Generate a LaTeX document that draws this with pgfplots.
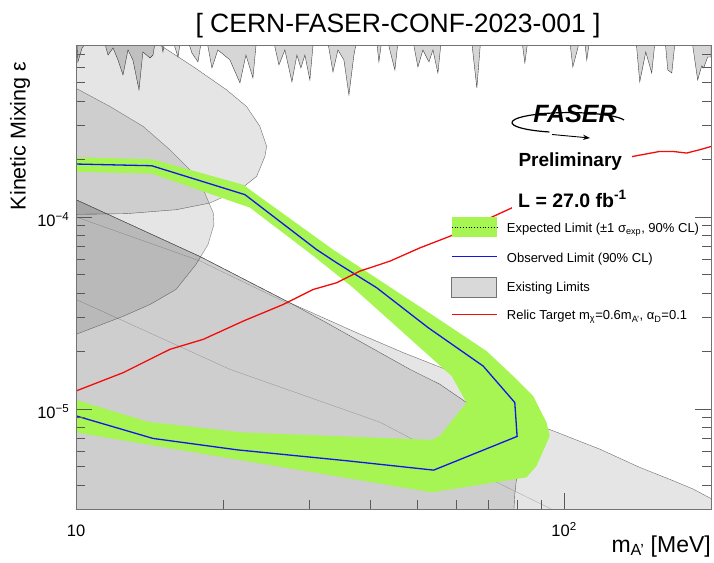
\documentclass[border=0pt]{standalone}
\usepackage{pgfplots}
\pgfplotsset{compat=1.18}
\usepackage{fontspec}
\setmainfont{Liberation Sans}
\usetikzlibrary{arrows.meta}
\definecolor{expgreen}{RGB}{166,245,82}
\definecolor{obsblue}{RGB}{20,20,235}
\definecolor{relicred}{RGB}{245,10,10}
\begin{document}
\begin{tikzpicture}
\path[use as bounding box] (0pt,0pt) rectangle (714pt,562pt);
\begin{axis}[
  at={(76pt,52.7pt)}, anchor=south west,
  scale only axis, width=635pt, height=464.3pt,
  xmode=log, ymode=log,
  xmin=10, xmax=200, ymin=3e-6, ymax=7.86e-4,
  xtick={10,100}, xticklabels={10,10\textsuperscript{2}},
  minor xtick={20,30,40,50,60,70,80,90,200},
  ytick={1e-5,1e-4}, yticklabels={10\textsuperscript{−5},10\textsuperscript{−4}},
  minor ytick={4e-6,5e-6,6e-6,7e-6,8e-6,9e-6,2e-5,3e-5,4e-5,5e-5,6e-5,7e-5,8e-5,9e-5,2e-4,3e-4,4e-4,5e-4,6e-4,7e-4},
  xtick pos=left, ytick pos=both,
  tick align=inside,
  major tick length=16pt, minor tick length=9pt,
  every tick/.style={black!65, line width=0.6pt},
  axis line style={black!55, line width=0.8pt},
  axis on top=true,
  ticklabel style={font=\fontsize{16.5}{18}\selectfont, inner sep=0pt},
  xticklabel style={anchor=base, yshift=-27pt},
  yticklabel style={anchor=base east, xshift=-6.5pt, yshift=-9.4pt},
]
% top spikes
\addplot[fill=black!16, draw=black!75, line width=0.4pt] coordinates {
(10.0,1e-3)(10.09,6.42e-4)(10.29,7.59e-4)(11.20,1e-3)(11.63,6.97e-4)(11.91,7.59e-4)(12.19,6.57e-4)(12.48,5.49e-4)(12.78,7.41e-4)(13.08,6.57e-4)(13.46,4.59e-4)(13.71,7.23e-4)(14.18,6.73e-4)(14.38,6.97e-4)(14.72,1e-3)(15.07,7.23e-4)(15.43,1e-3)(16.18,6.81e-4)(16.56,1e-3)(17.28,7.14e-4)(17.78,6.42e-4)(18.29,1e-3)(18.99,5.97e-4)(19.53,7.41e-4)(20.67,6.57e-4)(21.67,4.99e-4)(22.29,6.97e-4)(23.04,5.30e-4)(23.59,1e-3)(24.97,1e-3)(26.05,6.19e-4)(26.79,7.41e-4)(27.69,5.05e-4)(28.35,6.97e-4)(28.89,5.97e-4)(29.44,6.97e-4)(30.14,5.17e-4)(30.86,1e-3)(32.36,1e-3)(33.61,5.69e-4)(34.41,7.41e-4)(35.39,6.57e-4)(36.24,4.32e-4)(37.10,6.97e-4)(38.16,1e-3)(40.97,1e-3)(41.74,6.42e-4)(42.74,1e-3)(43.95,7.41e-4)(45.01,5.83e-4)(46.08,1e-3)(48.31,1e-3)(50.18,6.04e-4)(51.37,7.41e-4)(52.85,6.42e-4)(53.86,7.41e-4)(55.14,5.62e-4)(56.44,1e-3)(64.11,1e-3)(66.26,4.70e-4)(67.86,1e-3)(81.18,1e-3)(83.10,6.34e-4)(85.09,1e-3)(101.8,1e-3)(104.2,6.04e-4)(106.7,7.59e-4)(109.2,1e-3)(111.3,6.57e-4)(113.9,1e-3)(139.5,1e-3)(142.9,5.05e-4)(147.0,7.23e-4)(151.2,5.62e-4)(154.8,1e-3)(160.0,1e-3)(163.1,5.83e-4)(166.2,5.62e-4)(170.2,1e-3)(180.9,1e-3)(187.8,5.17e-4)(191.4,6.12e-4)(193.2,5.97e-4)(196.9,6.81e-4)(200,6.81e-4)(200,1e-3)(10.0,1e-3)
};
% region B (upper ellipse)
\addplot[fill=black, fill opacity=0.1, draw=black!70, draw opacity=0.8, line width=0.4pt] coordinates {
(9,8.35e-4)(14.38,8.35e-4)(14.86,7.86e-4)(17.39,6.06e-4)(20.35,4.59e-4)(22.36,3.76e-4)(23.81,2.96e-4)(24.58,2.33e-4)(24.38,2.065e-4)(23.45,1.626e-4)(21.67,1.387e-4)(18.81,1.182e-4)(16.08,1.091e-4)(12.70,1.040e-4)(9,1.028e-4)(9,8.35e-4)
};
% region A
\addplot[fill=black, fill opacity=0.1, draw=black!70, draw opacity=0.7, line width=0.4pt] coordinates {
(9,4.68e-4)(10,4.68e-4)(11.74,3.76e-4)(13.73,2.96e-4)(15.57,2.238e-4)(17.12,1.761e-4)(18.23,1.387e-4)(19.11,1.049e-4)(19.17,9.12e-5)(18.64,7.18e-5)(17.61,5.65e-5)(16.03,4.19e-5)(14.18,3.50e-5)(12.50,3.04e-5)(10,2.445e-5)(9,2.445e-5)(9,4.68e-4)
};
% region C2 (light, outer)
\addplot[fill=black, fill opacity=0.1, draw=black!70, draw opacity=0.8, line width=0.4pt] coordinates {
(9,1.23e-4)(10,1.23e-4)(17.95,6.22e-5)(27.43,3.57e-5)(37.57,2.495e-5)(46.82,1.964e-5)(58.35,1.576e-5)(70.44,1.058e-5)(78.63,9.20e-6)(94.95,7.69e-6)(118.4,6.17e-6)(142.9,4.96e-6)(167.2,4.23e-6)(183.7,3.83e-6)(199.7,3.42e-6)(220,3.2e-6)(220,1e-6)(9,1e-6)(9,1.23e-4)
};
% region C (dark line)
\addplot[fill=black, fill opacity=0.1, draw=black!75, draw opacity=0.8, line width=0.4pt] coordinates {
(9,1.23e-4)(10,1.23e-4)(17.95,6.22e-5)(27.43,3.57e-5)(32.61,2.81e-5)(48.31,1.608e-5)(55.65,1.344e-5)(63.11,1.08e-5)(70.44,7.84e-6)(75.59,5.81e-6)(79.90,4.31e-6)(79.26,3.60e-6)(78.3,2e-6)(9,2e-6)(9,1.23e-4)
};
% faint boundaries
\addplot[black, draw opacity=0.25, line width=0.4pt] coordinates {
(10,3.72e-5)(20.67,1.608e-5)(41.94,8.53e-6)(64.11,4.86e-6)(97,2.9e-6)
};
\addplot[black, draw opacity=0.25, line width=0.4pt] coordinates {
(10,1.00e-4)(17.95,5.9e-5)(27.43,3.5e-5)
};
% expected band
\addplot[fill=expgreen, draw=none] coordinates {
(10,2.045e-4)(14.31,1.997e-4)(21.98,1.472e-4)(33.61,6.76e-5)(53.51,3.106e-5)(69.36,2.002e-5)(78.63,1.484e-5)(86.41,1.168e-5)(92.04,8.50e-6)(93.47,7.24e-6)(87.81,5.05e-6)(83.75,4.40e-6)(53.51,3.68e-6)(10,7.54e-6)
(10,1.114e-5)(14.06,8.56e-6)(22.01,7.54e-6)(53.51,6.90e-6)(55.65,7.24e-6)(63.11,1.08e-5)(58.83,1.484e-5)(36.92,4.29e-5)(30.58,6.29e-5)(22.72,1.118e-4)(14.31,1.679e-4)(10,1.720e-4)(10,2.045e-4)
};
% observed
\addplot[obsblue, line width=1.3pt] coordinates {
(10.0,9.20e-6)(14.38,7.02e-6)(21.41,6.12e-6)(35.89,5.37e-6)(54.05,4.80e-6)(80.12,7.19e-6)(79.26,1.08e-5)(68.25,1.673e-5)(52.67,2.649e-5)(41.29,4.28e-5)(34.20,5.77e-5)(31.11,6.76e-5)(22.19,1.306e-4)(14.29,1.848e-4)(10.0,1.886e-4)
};
% relic target
\addplot[relicred, line width=1.3pt] coordinates {
(10,1.240e-5)(12.50,1.546e-5)(15.57,2.043e-5)(18.23,2.304e-5)(22.01,2.867e-5)(26.58,3.50e-5)(30.62,4.19e-5)(34.20,4.54e-5)(38.16,5.22e-5)(43.95,5.88e-5)(50.65,6.90e-5)(58.35,7.93e-5)(78.15,1.114e-4)(98.0,1.420e-4)(118.4,1.761e-4)(138.2,2.065e-4)(157.0,2.193e-4)(167.0,2.193e-4)(178.3,2.151e-4)(189.6,2.238e-4)(200,2.327e-4)
};
\end{axis}
% legend (drawn by hand)
\fill[expgreen] (451.7pt,325pt) rectangle (496.7pt,345pt);
\draw[black, dotted, line width=0.8pt] (451.7pt,335pt) -- (496.7pt,335pt);
\draw[obsblue, line width=1pt] (451.7pt,305pt) -- (496.7pt,305pt);
\filldraw[fill=black!15, draw=black!55, line width=0.6pt] (451.7pt,265pt) rectangle (496.7pt,285pt);
\draw[relicred, line width=1pt] (451.7pt,247pt) -- (496.7pt,247pt);
\begin{scope}[every node/.style={anchor=base west, inner sep=0pt, font=\fontsize{13}{15}\selectfont}]
\node at (506.7pt,329pt) {Expected Limit (±1 σ\textsubscript{exp}, 90\% CL)};
\node at (506.7pt,299.5pt) {Observed Limit (90\% CL)};
\node at (506.7pt,270.5pt) {Existing Limits};
\node at (506.7pt,242pt) {Relic Target m\textsubscript{χ}=0.6m\textsubscript{A'}, α\textsubscript{D}=0.1};
\end{scope}
% white pave behind text
\fill[white] (512pt,347pt) rectangle (632pt,422pt);
\node[anchor=base west, inner sep=0pt, font=\bfseries\fontsize{19}{22}\selectfont] at (518.3pt,395.3pt) {Preliminary};
\node[anchor=base west, inner sep=0pt, font=\bfseries\fontsize{19.5}{22}\selectfont] at (518pt,354.7pt) {L = 27.0 fb\textsuperscript{-1}};
% FASER logo
\node[inner sep=0pt, font=\bfseries\itshape\fontsize{25}{28}\selectfont] at (575pt,448pt) {FASER};
\draw[line width=1.2pt] (624pt,442pt) arc[start angle=15, end angle=250, x radius=57pt, y radius=10pt];
\draw[line width=0.9pt, -{Stealth[length=7pt]}] (552pt,427.5pt) -- (590pt,424pt);
% title and axis labels
\node[anchor=base, inner sep=0pt, font=\fontsize{26.5}{30}\selectfont] at (398pt,529pt) {[ CERN-FASER-CONF-2023-001 ]};
\node[rotate=90, inner sep=0pt, font=\fontsize{21.5}{24}\selectfont] at (20pt,426pt) {Kinetic Mixing ε};
\node[anchor=base east, inner sep=0pt, font=\fontsize{23}{26}\selectfont] at (711pt,10pt) {m\textsubscript{A'} [MeV]};
\end{tikzpicture}
\end{document}
